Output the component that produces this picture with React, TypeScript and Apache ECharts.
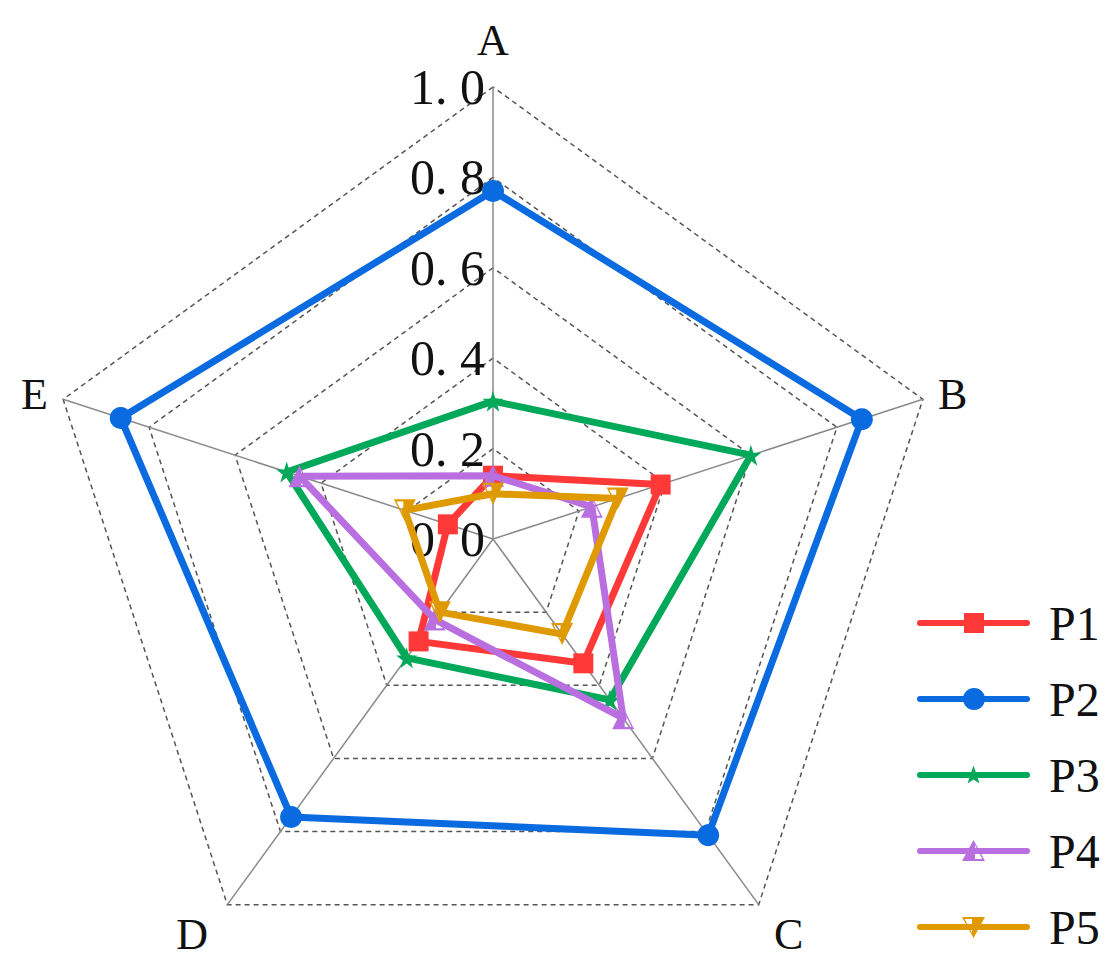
import React, { useEffect, useRef } from "react";
import * as echarts from "echarts";

const indicatorNames = ["A", "B", "C", "D", "E"];
const seriesNames = ["P1", "P2", "P3", "P4", "P5"];
const p1 = [0.14, 0.39, 0.34, 0.28, 0.105];
const p2 = [0.77, 0.858, 0.81, 0.76, 0.866];
const p3 = [0.305, 0.6, 0.44, 0.325, 0.48];
const p4 = [0.14, 0.23, 0.49, 0.22, 0.45];
const p5 = [0.1, 0.29, 0.26, 0.2, 0.205];
const seriesValues = [p1, p2, p3, p4, p5];
const colors = ["#FF3838", "#0A6AE0", "#00A85A", "#B96FE0", "#DE9A00"];

// ECharts radar runs counter-clockwise; reorder so the axes run A, B, C, D, E clockwise
const displayOrder = [0, 4, 3, 2, 1];

const STAR = "M50,0 L61,35 L98,35 L68,57 L79,91 L50,70 L21,91 L32,57 L2,35 L39,35 Z";
const UP_HALF = "M0,0 L0,20 L-11,20 Z M0,0 L11,20 L0,20 Z M1.5,5 L1.5,18 L8.3,18 Z";
const DOWN_HALF = "M0,0 L11,0 L0,20 Z M0,0 L0,20 L-11,0 Z M-1.5,2 L-8.3,2 L-1.5,15 Z";
const symbols = ["rect", "circle", "path://" + STAR, "path://" + UP_HALF, "path://" + DOWN_HALF];
const symbolSizes: any[] = [20, 22, 21, [22, 22], [22, 22]];

// legend icons: a 113 x 22 box, a 6px line with the marker in its middle
const LINE = "M0,0 Z M113,22 Z M3,8 L110,8 A3,3 0 0 1 110,14 L3,14 A3,3 0 0 1 3,8 Z";
const legendIcons = [
  LINE + " M47,1 L67,1 L67,21 L47,21 Z",
  LINE + " M46,11 A11,11 0 1 1 68,11 A11,11 0 1 1 46,11 Z",
  LINE + " M56.5,1.5 L58.85,8.26 L66.01,8.41 L60.3,12.74 L62.38,19.59 L56.5,15.5 L50.62,19.59 L52.7,12.74 L46.99,8.41 L54.15,8.26 Z",
  LINE + " M56.5,0 L56.5,21 L45,21 Z M56.5,0 L68,21 L56.5,21 Z M58,5 L58,19 L65.3,19 Z",
  LINE + " M56.5,1 L68,1 L56.5,22 Z M56.5,1 L56.5,22 L45,1 Z M55,3 L47.7,3 L55,17 Z",
].map((d) => "path://" + d);

const SERIF = "'Liberation Serif', 'DejaVu Serif', serif";

export default function App() {
  const ref = useRef<HTMLDivElement>(null);
  useEffect(() => {
    if (!ref.current) return;
    const chart = echarts.init(ref.current, null, { renderer: "svg" });
    chart.setOption({
      animation: false,
      backgroundColor: "#ffffff",
      legend: {
        orient: "vertical",
        left: 912,
        top: 594,
        itemWidth: 113,
        itemHeight: 22,
        itemGap: 28,
        itemStyle: { borderWidth: 0 },
        data: seriesNames.map((n, i) => ({ name: n, icon: legendIcons[i] })),
        textStyle: {
          fontFamily: SERIF,
          fontSize: 48,
          color: "#111",
          lineHeight: 30,
          padding: [0, 0, 0, 14],
        },
      },
      radar: {
        center: [493, 539],
        radius: 452,
        startAngle: 90,
        shape: "polygon",
        splitNumber: 5,
        nameGap: 16,
        axisName: {
          fontFamily: SERIF,
          fontSize: 44,
          color: "#111",
          formatter: (name: string) =>
            name === "C" ? "{c|C}" : name === "D" ? "{d|D}" : name,
          rich: {
            c: { fontFamily: SERIF, fontSize: 44, color: "#111", padding: [34, 0, 0, 6] },
            d: { fontFamily: SERIF, fontSize: 44, color: "#111", padding: [34, 10, 0, 0] },
          },
        },
        indicator: displayOrder.map((k, i) =>
          i === 0
            ? {
                name: indicatorNames[k],
                min: 0,
                max: 1,
                axisLabel: {
                  show: true,
                  fontFamily: SERIF,
                  fontSize: 50,
                  color: "#111",
                  formatter: (v: number) => v.toFixed(1).replace(".", ". "),
                },
              }
            : { name: indicatorNames[k], min: 0, max: 1 }
        ),
        axisLine: { show: true, lineStyle: { color: "#8a8a8a", width: 1.5 } },
        axisTick: { show: false },
        axisLabel: { show: false },
        splitLine: {
          show: true,
          lineStyle: { color: "#555", width: 1.5, type: [5, 4] },
        },
        splitArea: { show: false },
      },
      series: seriesNames.map((name, i) => ({
        type: "radar",
        name,
        symbol: symbols[i],
        symbolSize: symbolSizes[i],
        lineStyle: { color: colors[i], width: 7 },
        itemStyle: { color: colors[i] },
        z: 2 + i,
        data: [{ value: displayOrder.map((k) => seriesValues[i][k]), name }],
      })),
    });
    return () => chart.dispose();
  }, []);
  return (
    <div
      ref={ref}
      style={{ position: "fixed", left: 0, top: 0, width: 1113, height: 971 }}
    />
  );
}
